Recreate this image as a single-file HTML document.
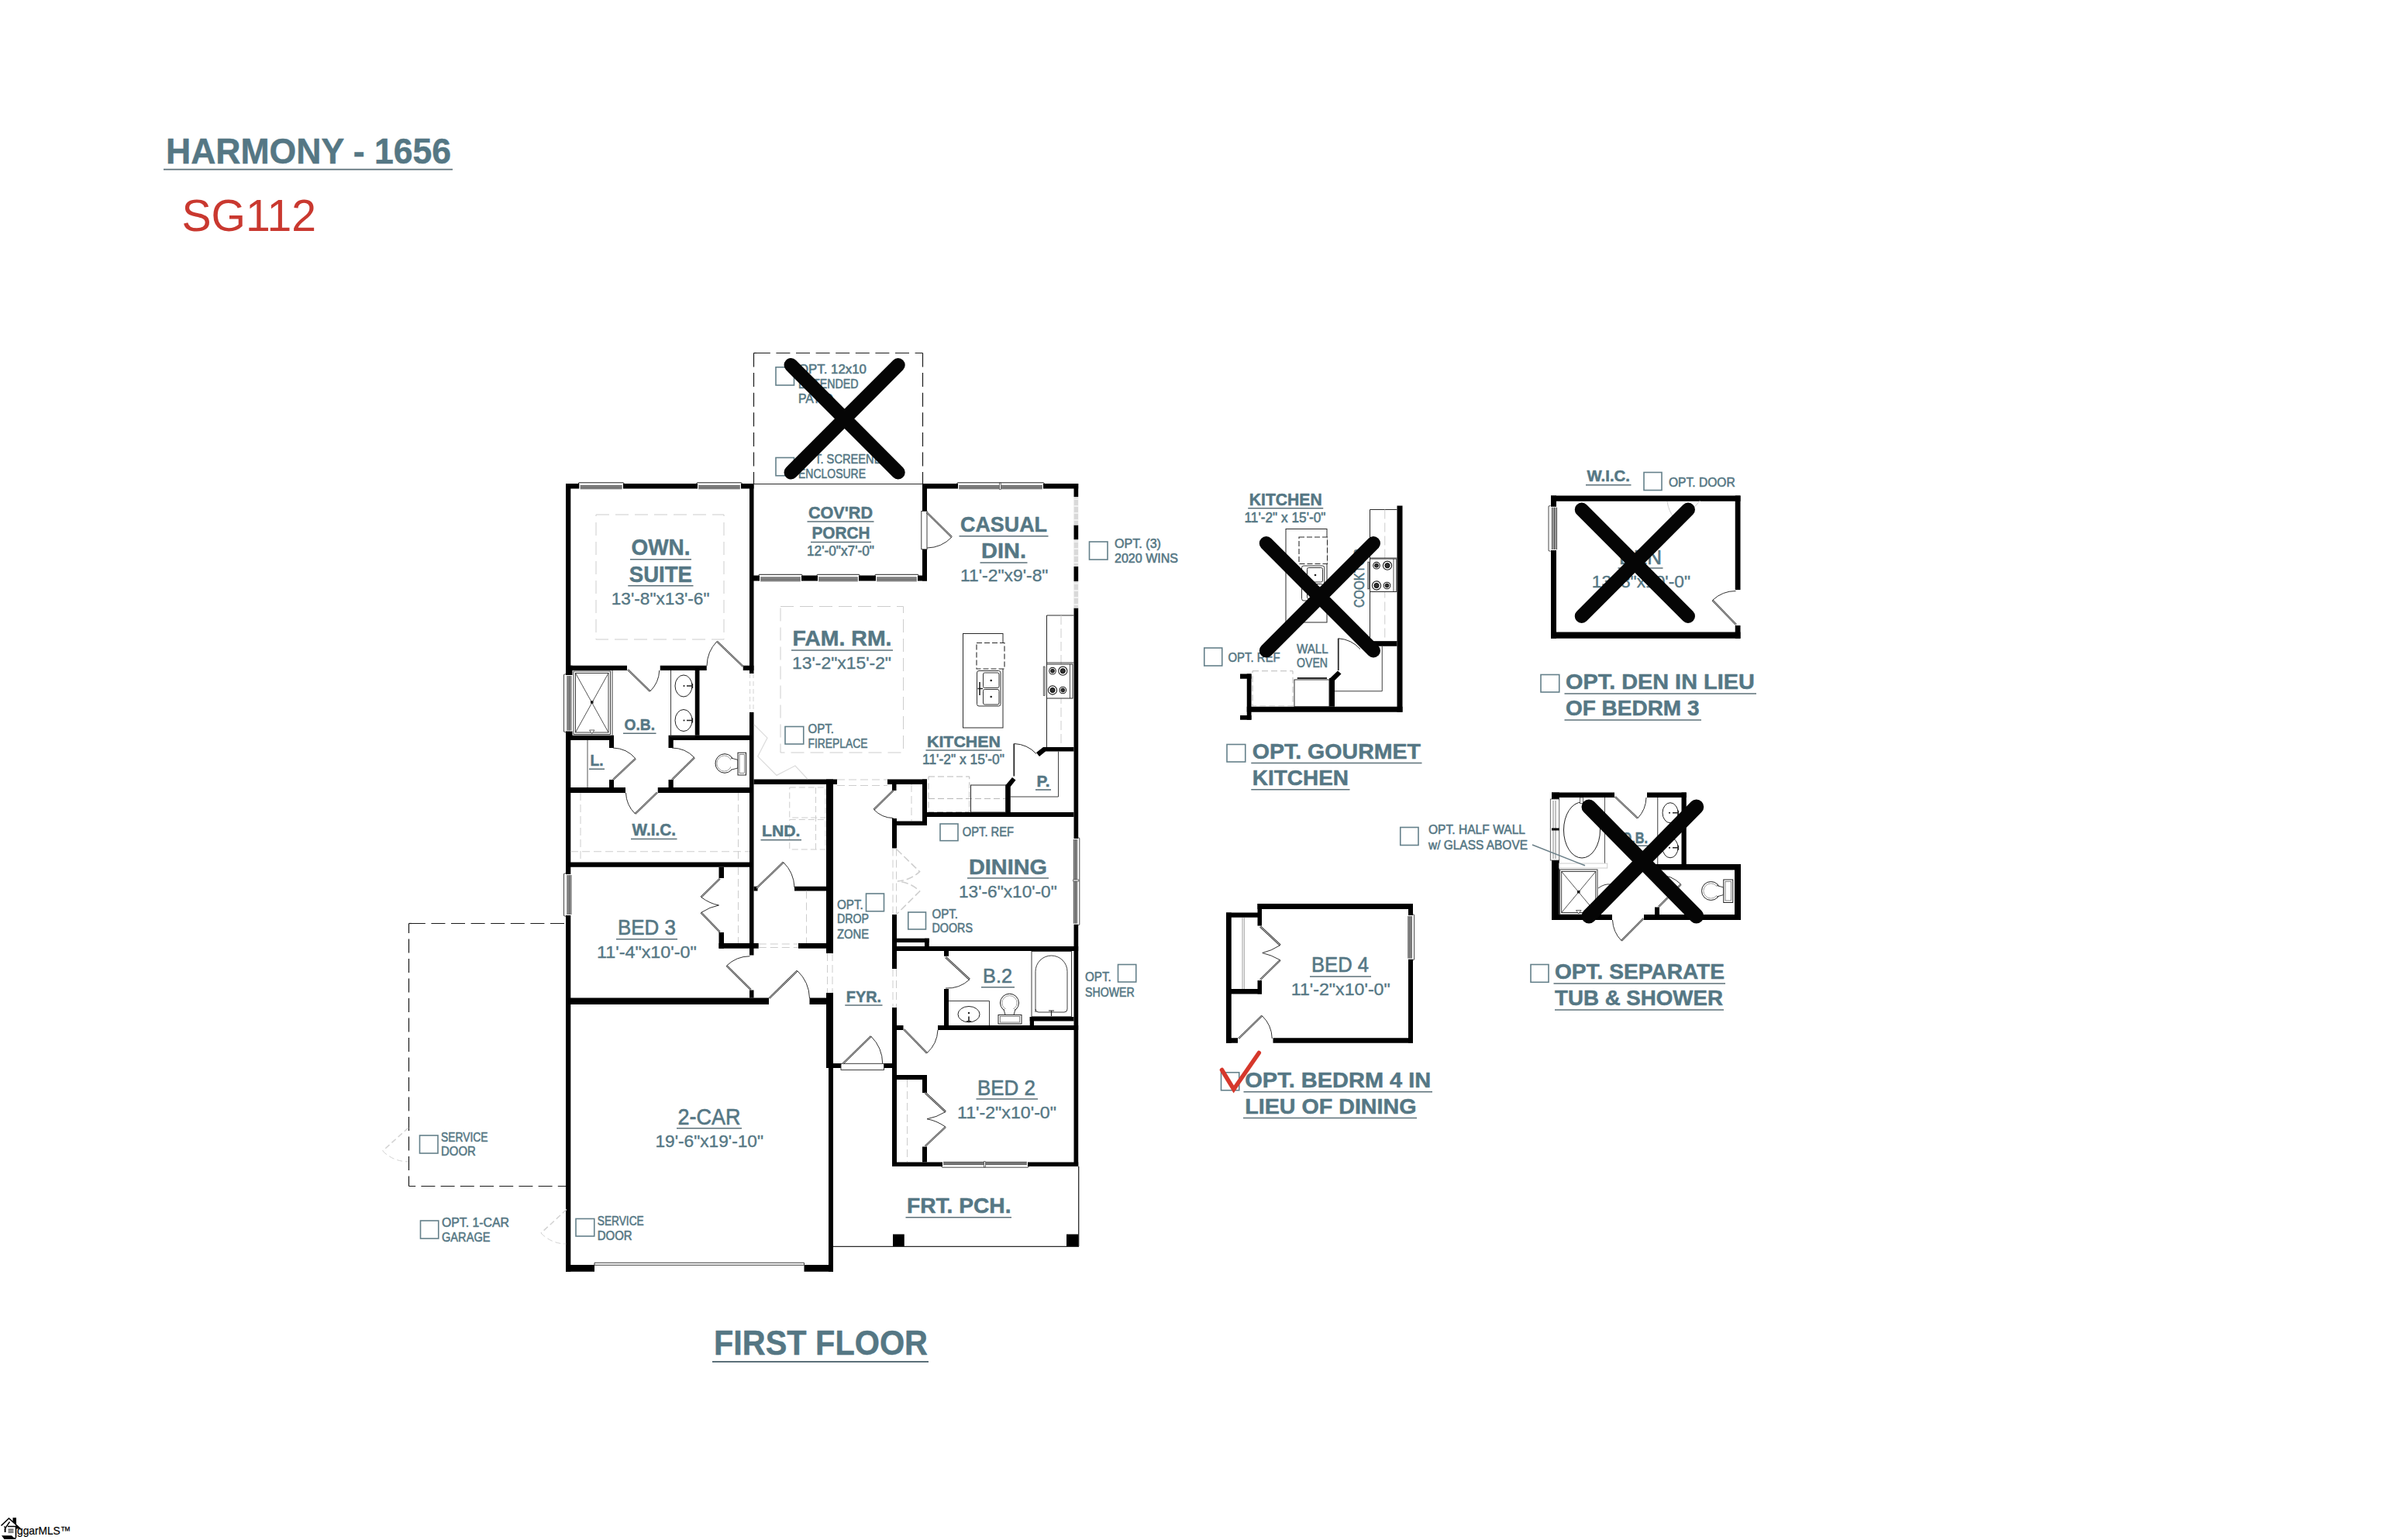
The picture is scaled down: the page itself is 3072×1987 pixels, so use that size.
<!DOCTYPE html>
<html><head><meta charset="utf-8"><title>Harmony 1656 - First Floor</title>
<style>html,body{margin:0;padding:0;background:#fff}svg{display:block;transform:translateZ(0)}text{font-family:"Liberation Sans",sans-serif}</style>
</head><body>
<svg width="3072" height="1987" viewBox="0 0 3072 1987">
<rect width="3072" height="1987" fill="#fff"/>
<rect x="730.00" y="624.00" width="6.30" height="1016.75" fill="#000" />
<rect x="730.00" y="624.00" width="17.50" height="6.50" fill="#000" />
<rect x="803.80" y="624.00" width="96.20" height="6.50" fill="#000" />
<rect x="956.00" y="624.00" width="16.50" height="6.50" fill="#000" />
<rect x="1190.00" y="624.00" width="46.00" height="6.50" fill="#000" />
<rect x="1346.00" y="624.00" width="45.20" height="6.50" fill="#000" />
<rect x="967.00" y="624.00" width="5.50" height="245.00" fill="#000" />
<rect x="967.00" y="919.00" width="5.50" height="313.50" fill="#000" />
<rect x="1190.00" y="624.00" width="6.00" height="36.00" fill="#000" />
<rect x="1190.00" y="708.75" width="6.00" height="40.75" fill="#000" />
<rect x="972.00" y="742.50" width="8.00" height="7.00" fill="#000" />
<rect x="1034.00" y="742.50" width="21.00" height="7.00" fill="#000" />
<rect x="1108.00" y="742.50" width="22.00" height="7.00" fill="#000" />
<rect x="1184.00" y="742.50" width="12.00" height="7.00" fill="#000" />
<rect x="1385.50" y="624.00" width="5.70" height="17.00" fill="#000" />
<rect x="1385.50" y="677.50" width="5.70" height="18.50" fill="#000" />
<rect x="1385.50" y="731.00" width="5.70" height="19.00" fill="#000" />
<rect x="1385.50" y="784.50" width="5.70" height="297.50" fill="#000" />
<rect x="1385.50" y="1192.50" width="5.70" height="312.50" fill="#000" />
<rect x="730.00" y="858.75" width="79.00" height="6.25" fill="#000" />
<rect x="851.75" y="858.75" width="60.00" height="6.25" fill="#000" />
<rect x="958.75" y="858.75" width="13.75" height="6.25" fill="#000" />
<rect x="730.00" y="858.75" width="8.50" height="12.25" fill="#000" />
<rect x="730.00" y="943.50" width="8.50" height="11.50" fill="#000" />
<rect x="896.75" y="865.00" width="5.75" height="83.75" fill="#000" />
<rect x="730.00" y="948.75" width="62.00" height="6.25" fill="#000" />
<rect x="862.50" y="948.75" width="104.50" height="6.25" fill="#000" />
<rect x="786.00" y="955.00" width="6.00" height="10.00" fill="#000" />
<rect x="862.50" y="955.00" width="6.25" height="10.00" fill="#000" />
<rect x="786.00" y="1006.00" width="6.00" height="10.00" fill="#000" />
<rect x="862.50" y="1006.00" width="6.25" height="10.00" fill="#000" />
<rect x="730.00" y="1016.00" width="77.00" height="7.00" fill="#000" />
<rect x="848.75" y="1016.00" width="118.25" height="7.00" fill="#000" />
<rect x="730.00" y="1112.50" width="237.00" height="6.25" fill="#000" />
<rect x="927.50" y="1118.75" width="6.50" height="14.25" fill="#000" />
<rect x="927.50" y="1203.00" width="6.50" height="20.75" fill="#000" />
<rect x="927.50" y="1217.00" width="51.25" height="6.75" fill="#000" />
<rect x="967.00" y="1277.50" width="5.50" height="10.00" fill="#000" />
<rect x="730.00" y="1287.50" width="262.00" height="8.50" fill="#000" />
<rect x="1044.50" y="1287.50" width="30.50" height="8.50" fill="#000" />
<rect x="972.50" y="1005.50" width="107.50" height="6.50" fill="#000" />
<rect x="1145.00" y="1005.50" width="51.00" height="6.50" fill="#000" />
<rect x="1066.00" y="1005.50" width="9.00" height="224.50" fill="#000" />
<rect x="972.50" y="1143.75" width="5.00" height="5.75" fill="#000" />
<rect x="1025.00" y="1143.75" width="41.00" height="5.75" fill="#000" />
<rect x="1030.00" y="1217.00" width="36.00" height="6.75" fill="#000" />
<rect x="1066.00" y="1281.00" width="9.00" height="97.00" fill="#000" />
<rect x="1069.00" y="1378.00" width="6.00" height="262.75" fill="#000" />
<rect x="730.00" y="1632.00" width="37.00" height="8.75" fill="#000" />
<rect x="1037.50" y="1632.00" width="37.50" height="8.75" fill="#000" />
<rect x="1190.00" y="1005.50" width="6.00" height="59.50" fill="#000" />
<rect x="1151.00" y="1059.50" width="45.00" height="5.50" fill="#000" />
<rect x="1151.00" y="1012.00" width="5.50" height="8.00" fill="#000" />
<rect x="1151.00" y="1056.00" width="6.00" height="38.50" fill="#000" />
<rect x="1151.00" y="1180.00" width="6.00" height="70.00" fill="#000" />
<rect x="1151.00" y="1300.00" width="6.00" height="205.00" fill="#000" />
<rect x="1196.00" y="1048.00" width="189.50" height="6.00" fill="#000" />
<rect x="1297.50" y="1012.50" width="6.25" height="35.50" fill="#000" />
<rect x="1346.00" y="964.00" width="39.50" height="5.50" fill="#000" />
<rect x="1151.00" y="1221.00" width="240.20" height="6.00" fill="#000" />
<rect x="1157.00" y="1210.75" width="41.75" height="5.25" fill="#000" />
<rect x="1193.00" y="1210.75" width="5.75" height="10.25" fill="#000" />
<rect x="1218.00" y="1227.00" width="6.00" height="6.75" fill="#000" />
<rect x="1218.00" y="1276.00" width="6.00" height="47.00" fill="#000" />
<rect x="1157.00" y="1323.00" width="8.50" height="6.00" fill="#000" />
<rect x="1210.00" y="1323.00" width="181.20" height="6.00" fill="#000" />
<rect x="1328.75" y="1312.00" width="56.75" height="5.50" fill="#000" />
<rect x="1328.75" y="1312.00" width="5.25" height="11.00" fill="#000" />
<rect x="1075.00" y="1372.00" width="11.00" height="6.00" fill="#000" />
<rect x="1140.00" y="1372.00" width="11.00" height="6.00" fill="#000" />
<rect x="1157.00" y="1387.00" width="39.00" height="6.00" fill="#000" />
<rect x="1190.00" y="1393.00" width="6.00" height="17.00" fill="#000" />
<rect x="1190.00" y="1479.50" width="6.00" height="20.00" fill="#000" />
<rect x="1151.00" y="1499.50" width="65.00" height="5.50" fill="#000" />
<rect x="1326.00" y="1499.50" width="65.20" height="5.50" fill="#000" />
<rect x="1152.00" y="1592.50" width="14.75" height="16.00" fill="#000" />
<rect x="1376.00" y="1592.50" width="16.00" height="16.00" fill="#000" />
<path d="M1346 964L1337 971L1341 976L1349 969.5Z" stroke="none" stroke-width="1" fill="#000" />
<path d="M1297.5 1013L1306 1003L1310.5 1006.5L1303.75 1015Z" stroke="none" stroke-width="1" fill="#000" />
<rect x="1385.50" y="641.00" width="5.70" height="36.50" fill="#d9d9d9" />
<line x1="1385.50" y1="644.00" x2="1391.20" y2="644.00" stroke="#fff" stroke-width="1.2" />
<line x1="1385.50" y1="653.00" x2="1391.20" y2="653.00" stroke="#fff" stroke-width="1.2" />
<line x1="1385.50" y1="662.00" x2="1391.20" y2="662.00" stroke="#fff" stroke-width="1.2" />
<line x1="1385.50" y1="671.00" x2="1391.20" y2="671.00" stroke="#fff" stroke-width="1.2" />
<rect x="1385.50" y="696.00" width="5.70" height="35.00" fill="#d9d9d9" />
<line x1="1385.50" y1="699.00" x2="1391.20" y2="699.00" stroke="#fff" stroke-width="1.2" />
<line x1="1385.50" y1="708.00" x2="1391.20" y2="708.00" stroke="#fff" stroke-width="1.2" />
<line x1="1385.50" y1="717.00" x2="1391.20" y2="717.00" stroke="#fff" stroke-width="1.2" />
<line x1="1385.50" y1="726.00" x2="1391.20" y2="726.00" stroke="#fff" stroke-width="1.2" />
<rect x="1385.50" y="750.00" width="5.70" height="34.50" fill="#d9d9d9" />
<line x1="1385.50" y1="753.00" x2="1391.20" y2="753.00" stroke="#fff" stroke-width="1.2" />
<line x1="1385.50" y1="762.00" x2="1391.20" y2="762.00" stroke="#fff" stroke-width="1.2" />
<line x1="1385.50" y1="771.00" x2="1391.20" y2="771.00" stroke="#fff" stroke-width="1.2" />
<line x1="1385.50" y1="780.00" x2="1391.20" y2="780.00" stroke="#fff" stroke-width="1.2" />
<path d="M967.6 869V919M972 869V919" stroke="#d4d4d4" stroke-width="1" fill="none" stroke-dasharray="6 4"/>
<rect x="747.50" y="623.40" width="56.30" height="7.70" fill="#fff" />
<path d="M746.20 624.00L746.90 622.80H804.40L805.10 624.00" stroke="#222" stroke-width="1" fill="none" />
<rect x="748.70" y="626.40" width="53.90" height="4.30" fill="#9a9a9a" />
<line x1="748.70" y1="626.40" x2="802.60" y2="626.40" stroke="#4a4a4a" stroke-width="0.9" />
<line x1="748.70" y1="628.55" x2="802.60" y2="628.55" stroke="#4a4a4a" stroke-width="0.9" />
<line x1="748.70" y1="630.70" x2="802.60" y2="630.70" stroke="#4a4a4a" stroke-width="0.9" />
<rect x="900.00" y="623.40" width="56.00" height="7.70" fill="#fff" />
<path d="M898.70 624.00L899.40 622.80H956.60L957.30 624.00" stroke="#222" stroke-width="1" fill="none" />
<rect x="901.20" y="626.40" width="53.60" height="4.30" fill="#9a9a9a" />
<line x1="901.20" y1="626.40" x2="954.80" y2="626.40" stroke="#4a4a4a" stroke-width="0.9" />
<line x1="901.20" y1="628.55" x2="954.80" y2="628.55" stroke="#4a4a4a" stroke-width="0.9" />
<line x1="901.20" y1="630.70" x2="954.80" y2="630.70" stroke="#4a4a4a" stroke-width="0.9" />
<rect x="1236.00" y="623.40" width="110.00" height="7.70" fill="#fff" />
<path d="M1234.70 624.00L1235.40 622.80H1346.60L1347.30 624.00" stroke="#222" stroke-width="1" fill="none" />
<rect x="1237.20" y="626.40" width="107.60" height="4.30" fill="#9a9a9a" />
<line x1="1237.20" y1="626.40" x2="1344.80" y2="626.40" stroke="#4a4a4a" stroke-width="0.9" />
<line x1="1237.20" y1="628.55" x2="1344.80" y2="628.55" stroke="#4a4a4a" stroke-width="0.9" />
<line x1="1237.20" y1="630.70" x2="1344.80" y2="630.70" stroke="#4a4a4a" stroke-width="0.9" />
<rect x="1289.50" y="623.20" width="2.00" height="8.10" fill="#fff" stroke="#444" stroke-width="0.7" />
<rect x="980.00" y="741.90" width="54.00" height="8.20" fill="#fff" />
<path d="M978.70 742.50L979.40 741.30H1034.60L1035.30 742.50" stroke="#222" stroke-width="1" fill="none" />
<rect x="981.20" y="744.90" width="51.60" height="4.80" fill="#9a9a9a" />
<line x1="981.20" y1="744.90" x2="1032.80" y2="744.90" stroke="#4a4a4a" stroke-width="0.9" />
<line x1="981.20" y1="747.30" x2="1032.80" y2="747.30" stroke="#4a4a4a" stroke-width="0.9" />
<line x1="981.20" y1="749.70" x2="1032.80" y2="749.70" stroke="#4a4a4a" stroke-width="0.9" />
<rect x="1055.00" y="741.90" width="53.00" height="8.20" fill="#fff" />
<path d="M1053.70 742.50L1054.40 741.30H1108.60L1109.30 742.50" stroke="#222" stroke-width="1" fill="none" />
<rect x="1056.20" y="744.90" width="50.60" height="4.80" fill="#9a9a9a" />
<line x1="1056.20" y1="744.90" x2="1106.80" y2="744.90" stroke="#4a4a4a" stroke-width="0.9" />
<line x1="1056.20" y1="747.30" x2="1106.80" y2="747.30" stroke="#4a4a4a" stroke-width="0.9" />
<line x1="1056.20" y1="749.70" x2="1106.80" y2="749.70" stroke="#4a4a4a" stroke-width="0.9" />
<rect x="1130.00" y="741.90" width="54.00" height="8.20" fill="#fff" />
<path d="M1128.70 742.50L1129.40 741.30H1184.60L1185.30 742.50" stroke="#222" stroke-width="1" fill="none" />
<rect x="1131.20" y="744.90" width="51.60" height="4.80" fill="#9a9a9a" />
<line x1="1131.20" y1="744.90" x2="1182.80" y2="744.90" stroke="#4a4a4a" stroke-width="0.9" />
<line x1="1131.20" y1="747.30" x2="1182.80" y2="747.30" stroke="#4a4a4a" stroke-width="0.9" />
<line x1="1131.20" y1="749.70" x2="1182.80" y2="749.70" stroke="#4a4a4a" stroke-width="0.9" />
<rect x="1216.00" y="1498.90" width="110.00" height="6.70" fill="#fff" />
<path d="M1214.70 1505.00L1215.40 1506.20H1326.60L1327.30 1505.00" stroke="#333" stroke-width="0.9" fill="none" />
<rect x="1217.20" y="1499.30" width="107.60" height="3.30" fill="#9a9a9a" />
<line x1="1217.20" y1="1499.30" x2="1324.80" y2="1499.30" stroke="#4a4a4a" stroke-width="0.9" />
<line x1="1217.20" y1="1500.95" x2="1324.80" y2="1500.95" stroke="#4a4a4a" stroke-width="0.9" />
<line x1="1217.20" y1="1502.60" x2="1324.80" y2="1502.60" stroke="#4a4a4a" stroke-width="0.9" />
<rect x="1269.50" y="1498.70" width="2.00" height="7.10" fill="#fff" stroke="#444" stroke-width="0.7" />
<rect x="729.40" y="871.00" width="7.50" height="72.50" fill="#fff" />
<path d="M730.00 869.70L727.50 870.40V944.10L730.00 944.80" stroke="#333" stroke-width="0.9" fill="none" />
<rect x="731.90" y="872.00" width="5.00" height="70.50" fill="#9a9a9a" />
<line x1="731.90" y1="872.00" x2="731.90" y2="942.50" stroke="#4a4a4a" stroke-width="0.9" />
<line x1="734.40" y1="872.00" x2="734.40" y2="942.50" stroke="#4a4a4a" stroke-width="0.9" />
<line x1="736.90" y1="872.00" x2="736.90" y2="942.50" stroke="#4a4a4a" stroke-width="0.9" />
<rect x="729.40" y="1128.00" width="7.50" height="53.00" fill="#fff" />
<path d="M730.00 1126.70L727.50 1127.40V1181.60L730.00 1182.30" stroke="#333" stroke-width="0.9" fill="none" />
<rect x="731.90" y="1129.00" width="5.00" height="51.00" fill="#9a9a9a" />
<line x1="731.90" y1="1129.00" x2="731.90" y2="1180.00" stroke="#4a4a4a" stroke-width="0.9" />
<line x1="734.40" y1="1129.00" x2="734.40" y2="1180.00" stroke="#4a4a4a" stroke-width="0.9" />
<line x1="736.90" y1="1129.00" x2="736.90" y2="1180.00" stroke="#4a4a4a" stroke-width="0.9" />
<rect x="1384.90" y="1082.00" width="6.90" height="110.50" fill="#fff" />
<path d="M1391.20 1080.70L1392.80 1081.40V1193.10L1391.20 1193.80" stroke="#333" stroke-width="0.9" fill="none" />
<rect x="1385.30" y="1083.00" width="4.30" height="108.50" fill="#9a9a9a" />
<line x1="1385.30" y1="1083.00" x2="1385.30" y2="1191.50" stroke="#4a4a4a" stroke-width="0.9" />
<line x1="1387.45" y1="1083.00" x2="1387.45" y2="1191.50" stroke="#4a4a4a" stroke-width="0.9" />
<line x1="1389.60" y1="1083.00" x2="1389.60" y2="1191.50" stroke="#4a4a4a" stroke-width="0.9" />
<rect x="1384.70" y="1135.00" width="7.30" height="2.00" fill="#fff" stroke="#444" stroke-width="0.7" />
<path d="M972.5 455.5H976" stroke="#1a1a1a" stroke-width="1.2" fill="none" />
<path d="M975.8 455.5H1190.5" stroke="#1a1a1a" stroke-width="1.2" fill="none" stroke-dasharray="18 7.6"/>
<path d="M972.5 455.5V624.5M1190.5 455.5V624.5" stroke="#1a1a1a" stroke-width="1.2" fill="none" stroke-dasharray="18 7.6"/>
<line x1="972.50" y1="624.50" x2="1190.50" y2="624.50" stroke="#2a2a2a" stroke-width="1.2" />
<path d="M527.5 1191.5H531" stroke="#1a1a1a" stroke-width="1.2" fill="none" />
<path d="M530.8 1191.5H730" stroke="#1a1a1a" stroke-width="1.2" fill="none" stroke-dasharray="18 7.6"/>
<path d="M527.5 1191.5V1530.5" stroke="#1a1a1a" stroke-width="1.2" fill="none" stroke-dasharray="18 7.5" stroke-dashoffset="5.5"/>
<path d="M527.5 1530.5H730" stroke="#1a1a1a" stroke-width="1.2" fill="none" stroke-dasharray="18 7.2" stroke-dashoffset="9.3"/>
<rect x="769.00" y="664.00" width="165.00" height="161.00" fill="none" stroke="#cdcdcd" stroke-width="1" stroke-dasharray="17 8"/>
<rect x="1007.00" y="782.50" width="158.50" height="188.50" fill="none" stroke="#cdcdcd" stroke-width="1" stroke-dasharray="17 8"/>
<path d="M749 1023V1112M952.5 1023V1112M952.5 1119V1217M736 1098.75H967" stroke="#cdcdcd" stroke-width="1" fill="none" stroke-dasharray="10 5"/>
<path d="M1018.75 1016H1065V1055H1018.75ZM1018.75 1057.5H1065V1096H1018.75ZM1052.5 1016V1096" stroke="#cdcdcd" stroke-width="1" fill="none" stroke-dasharray="8 4"/>
<path d="M1040.5 1149.5V1217M978.75 1218H1030M978.75 1222.5H1030" stroke="#cdcdcd" stroke-width="1" fill="none" stroke-dasharray="10 5"/>
<path d="M1080 1006H1145M1080 1013.5H1145" stroke="#cdcdcd" stroke-width="1" fill="none" stroke-dasharray="10 5"/>
<path d="M1176 1012V1059" stroke="#cdcdcd" stroke-width="1" fill="none" stroke-dasharray="10 5"/>
<path d="M1067.5 1230V1281M1074 1230V1281" stroke="#cdcdcd" stroke-width="1" fill="none" stroke-dasharray="10 5"/>
<path d="M1152 1094.5V1180M1156.5 1094.5V1180M1152 1250V1300M1156.5 1250V1300" stroke="#cdcdcd" stroke-width="1" fill="none" stroke-dasharray="10 5"/>
<path d="M1157 1096L1186.6 1124.7Q1175 1135.5 1158 1137Q1175 1138.5 1186.6 1150L1157.4 1179" stroke="#cfcfcf" stroke-width="1.6" fill="none" stroke-dasharray="9 4"/>
<path d="M1198 1002H1250.75V1047.5H1198ZM1198 1030.5H1297.5" stroke="#b8b8b8" stroke-width="1" fill="none" stroke-dasharray="8 4"/>
<rect x="1252.50" y="1013.00" width="45.00" height="35.00" fill="none" stroke="#2a2a2a" stroke-width="1" />
<path d="M1170.5 1393V1499" stroke="#cdcdcd" stroke-width="1" fill="none" stroke-dasharray="10 5"/>
<path d="M973 935L990 952L977.7 976L1002 1000.4L1026 988L1041.7 1005" stroke="#dcdcdc" stroke-width="1.2" fill="none" />
<path d="M1075 1608.3H1392M1391.7 1505V1608" stroke="#2a2a2a" stroke-width="1.3" fill="none" />
<path d="M767 1629.3H1037.5M767 1632.3H1037.5M767 1629.3V1632M1037.5 1629.3V1632" stroke="#2a2a2a" stroke-width="0.9" fill="none" />
<rect x="1085.00" y="1372.30" width="55.50" height="8.20" fill="#fff" stroke="#2a2a2a" stroke-width="0.9" />
<rect x="1242.50" y="817.50" width="51.50" height="121.50" fill="none" stroke="#2a2a2a" stroke-width="1" />
<rect x="1260.00" y="829.50" width="36.00" height="33.50" fill="#fff" stroke="#2a2a2a" stroke-width="1.1" stroke-dasharray="7 3"/>
<rect x="1260.50" y="865.50" width="30.50" height="45.50" fill="none" stroke="#333" stroke-width="1" rx="2.5"/>
<rect x="1268.50" y="868.00" width="20.50" height="19.50" fill="none" stroke="#333" stroke-width="1" rx="2"/>
<rect x="1268.50" y="889.50" width="20.50" height="19.50" fill="none" stroke="#333" stroke-width="1" rx="2"/>
<circle cx="1278.7" cy="878" r="1.3" fill="#222"/><circle cx="1278.7" cy="899" r="1.3" fill="#222"/>
<path d="M1264 880V897M1261.5 888.5H1268" stroke="#222" stroke-width="1.6" fill="none" />
<path d="M1385.5 794H1350.5V964" stroke="#2a2a2a" stroke-width="1" fill="none" />
<path d="M1369 794V964" stroke="#cdcdcd" stroke-width="1" fill="none" stroke-dasharray="12 5"/>
<line x1="1350.50" y1="855.00" x2="1385.50" y2="855.00" stroke="#2a2a2a" stroke-width="0.9" />
<rect x="1350.50" y="857.00" width="33.50" height="44.00" fill="#fff" stroke="#2a2a2a" stroke-width="1" />
<line x1="1380.50" y1="857.00" x2="1380.50" y2="901.00" stroke="#2a2a2a" stroke-width="0.8" />
<rect x="1346.20" y="860.00" width="2.00" height="37.50" fill="#bbb" stroke="#444" stroke-width="0.7" />
<circle cx="1358" cy="865.7" r="4.3" fill="#fff" stroke="#222" stroke-width="1.1"/><circle cx="1358" cy="865.7" r="2.4" fill="#333" stroke="#000" stroke-width="0.9"/>
<circle cx="1371.3" cy="865.7" r="5.6" fill="#fff" stroke="#222" stroke-width="1.1"/><circle cx="1371.3" cy="865.7" r="3.1" fill="#333" stroke="#000" stroke-width="0.9"/>
<circle cx="1358" cy="890.5" r="5.6" fill="#fff" stroke="#222" stroke-width="1.1"/><circle cx="1358" cy="890.5" r="3.1" fill="#333" stroke="#000" stroke-width="0.9"/>
<circle cx="1371.3" cy="890.5" r="4.3" fill="#fff" stroke="#222" stroke-width="1.1"/><circle cx="1371.3" cy="890.5" r="2.4" fill="#333" stroke="#000" stroke-width="0.9"/>
<path d="M1365.5 969.5V1028H1303.75" stroke="#2a2a2a" stroke-width="0.9" fill="none" />
<path d="M865.5 865V950.5H896.75" stroke="#2a2a2a" stroke-width="0.9" fill="none" />
<ellipse cx="882" cy="885" rx="11" ry="14" fill="#fff" stroke="#222" stroke-width="1"/>
<circle cx="882.5" cy="885" r="1.1" fill="#222"/>
<path d="M886 885H894M893.5 882V888" stroke="#222" stroke-width="1.3" fill="none" />
<ellipse cx="882" cy="929.5" rx="11" ry="14" fill="#fff" stroke="#222" stroke-width="1"/>
<circle cx="882.5" cy="929.5" r="1.1" fill="#222"/>
<path d="M886 929.5H894M893.5 926.5V932.5" stroke="#222" stroke-width="1.3" fill="none" />
<rect x="740.00" y="866.00" width="47.50" height="81.50" fill="none" stroke="#2a2a2a" stroke-width="0.9" />
<line x1="790.00" y1="865.00" x2="790.00" y2="948.75" stroke="#2a2a2a" stroke-width="0.9" />
<rect x="742.50" y="868.50" width="42.50" height="76.50" fill="none" stroke="#2a2a2a" stroke-width="0.9" />
<path d="M742.5 868.5L785 945M785 868.5L742.5 945" stroke="#2a2a2a" stroke-width="0.8" fill="none" />
<rect x="762.00" y="904.30" width="3.50" height="3.40" fill="#111" />
<path d="M760.5 942L767 942L763.7 946.5Z" stroke="#2a2a2a" stroke-width="0.7" fill="#fff" />
<line x1="758.00" y1="955.00" x2="758.00" y2="1016.00" stroke="#444" stroke-width="0.9" />
<ellipse cx="935" cy="985" rx="12" ry="12.3" fill="#fff" stroke="#222" stroke-width="1"/><ellipse cx="934.5" cy="985" rx="9.6" ry="10" fill="none" stroke="#888" stroke-width="0.8"/>
<path d="M943 978L952 980.4V991L943 993.3" stroke="#222" stroke-width="0.9" fill="#fff" />
<rect x="952.00" y="971.20" width="10.50" height="28.80" fill="#fff" stroke="#222" stroke-width="1" />
<rect x="954.00" y="973.50" width="6.50" height="24.00" fill="none" stroke="#555" stroke-width="0.7" />
<rect x="1331.00" y="1227.50" width="51.50" height="84.25" fill="none" stroke="#2a2a2a" stroke-width="0.9" />
<path d="M1336 1306V1253.5A20.5 20.5 0 0 1 1377 1253.5V1302A4 4 0 0 1 1373 1306H1340A4 4 0 0 1 1336 1302" stroke="#2a2a2a" stroke-width="0.9" fill="none" />
<path d="M1353 1304H1360M1356.5 1304V1311" stroke="#2a2a2a" stroke-width="1.2" fill="none" />
<path d="M1224 1291.5H1276.5V1323" stroke="#2a2a2a" stroke-width="0.9" fill="none" />
<ellipse cx="1250" cy="1308.7" rx="14" ry="10.2" fill="#fff" stroke="#222" stroke-width="1"/><circle cx="1250" cy="1307" r="1.2" fill="#222"/>
<path d="M1250 1311.5V1317.5M1247.3 1317.8H1252.7" stroke="#222" stroke-width="1.6" fill="none" />
<ellipse cx="1302.5" cy="1294" rx="12" ry="11.8" fill="#fff" stroke="#222" stroke-width="1"/><ellipse cx="1302.5" cy="1294" rx="9.6" ry="9.4" fill="none" stroke="#888" stroke-width="0.8"/>
<path d="M1295 1302L1297 1309.5H1308L1310 1302" stroke="#222" stroke-width="0.9" fill="#fff" />
<rect x="1288.00" y="1309.50" width="30.00" height="11.50" fill="#fff" stroke="#222" stroke-width="1" />
<rect x="1290.30" y="1311.60" width="25.40" height="7.40" fill="none" stroke="#555" stroke-width="0.7" />
<path d="M958.75 860.00L925.00 827.50" stroke="#333" stroke-width="2.4" fill="none" />
<path d="M958.75 860.00L925.00 827.50" stroke="#fff" stroke-width="0.8" fill="none" />
<path d="M925.00 827.50A46.85 46.85 0 0 0 912.00 859.00" stroke="#333" stroke-width="1.0" fill="none" />
<path d="M810.00 864.00L838.75 892.00" stroke="#333" stroke-width="2.4" fill="none" />
<path d="M810.00 864.00L838.75 892.00" stroke="#fff" stroke-width="0.8" fill="none" />
<path d="M838.75 892.00A40.13 40.13 0 0 0 850.75 865.00" stroke="#333" stroke-width="1.0" fill="none" />
<path d="M791.00 1006.00L820.00 978.75" stroke="#333" stroke-width="2.4" fill="none" />
<path d="M791.00 1006.00L820.00 978.75" stroke="#fff" stroke-width="0.8" fill="none" />
<path d="M820.00 978.75A39.79 39.79 0 0 0 791.00 965.00" stroke="#333" stroke-width="1.0" fill="none" />
<path d="M867.00 1006.00L896.00 977.50" stroke="#333" stroke-width="2.4" fill="none" />
<path d="M867.00 1006.00L896.00 977.50" stroke="#fff" stroke-width="0.8" fill="none" />
<path d="M896.00 977.50A40.66 40.66 0 0 0 867.00 965.00" stroke="#333" stroke-width="1.0" fill="none" />
<path d="M848.00 1022.50L819.50 1050.00" stroke="#333" stroke-width="2.4" fill="none" />
<path d="M848.00 1022.50L819.50 1050.00" stroke="#fff" stroke-width="0.8" fill="none" />
<path d="M819.50 1050.00A39.60 39.60 0 0 1 807.50 1023.00" stroke="#333" stroke-width="1.0" fill="none" />
<path d="M968.75 1277.00L937.50 1246.00" stroke="#333" stroke-width="2.4" fill="none" />
<path d="M968.75 1277.00L937.50 1246.00" stroke="#fff" stroke-width="0.8" fill="none" />
<path d="M937.50 1246.00A44.02 44.02 0 0 1 967.50 1233.75" stroke="#333" stroke-width="1.0" fill="none" />
<path d="M992.50 1288.00L1028.75 1252.50" stroke="#333" stroke-width="2.4" fill="none" />
<path d="M992.50 1288.00L1028.75 1252.50" stroke="#fff" stroke-width="0.8" fill="none" />
<path d="M1028.75 1252.50A50.74 50.74 0 0 1 1044.50 1288.00" stroke="#333" stroke-width="1.0" fill="none" />
<path d="M976.00 1146.00L1010.75 1112.50" stroke="#333" stroke-width="2.4" fill="none" />
<path d="M976.00 1146.00L1010.75 1112.50" stroke="#fff" stroke-width="0.8" fill="none" />
<path d="M1010.75 1112.50A48.27 48.27 0 0 1 1025.00 1145.00" stroke="#333" stroke-width="1.0" fill="none" />
<path d="M1152.50 1020.00L1127.50 1044.50" stroke="#333" stroke-width="2.4" fill="none" />
<path d="M1152.50 1020.00L1127.50 1044.50" stroke="#fff" stroke-width="0.8" fill="none" />
<path d="M1127.50 1044.50A35.00 35.00 0 0 0 1152.50 1055.50" stroke="#333" stroke-width="1.0" fill="none" />
<path d="M1220.00 1235.00L1251.00 1263.75" stroke="#333" stroke-width="2.4" fill="none" />
<path d="M1220.00 1235.00L1251.00 1263.75" stroke="#fff" stroke-width="0.8" fill="none" />
<path d="M1251.00 1263.75A42.28 42.28 0 0 1 1220.00 1275.00" stroke="#333" stroke-width="1.0" fill="none" />
<path d="M1166.00 1328.00L1196.00 1358.75" stroke="#333" stroke-width="2.4" fill="none" />
<path d="M1166.00 1328.00L1196.00 1358.75" stroke="#fff" stroke-width="0.8" fill="none" />
<path d="M1196.00 1358.75A42.96 42.96 0 0 0 1210.00 1329.00" stroke="#333" stroke-width="1.0" fill="none" />
<path d="M1087.50 1372.50L1123.75 1337.00" stroke="#333" stroke-width="2.4" fill="none" />
<path d="M1087.50 1372.50L1123.75 1337.00" stroke="#fff" stroke-width="0.8" fill="none" />
<path d="M1123.75 1337.00A50.74 50.74 0 0 1 1138.75 1372.50" stroke="#333" stroke-width="1.0" fill="none" />
<rect x="1188.80" y="659.50" width="7.20" height="49.25" fill="#fff" stroke="#2a2a2a" stroke-width="0.9" />
<path d="M1195.50 661.00L1228.00 693.00" stroke="#333" stroke-width="2.4" fill="none" />
<path d="M1195.50 661.00L1228.00 693.00" stroke="#fff" stroke-width="0.8" fill="none" />
<path d="M1228.00 693.00A45.61 45.61 0 0 1 1196.00 707.00" stroke="#333" stroke-width="1.0" fill="none" />
<line x1="1308.30" y1="959.50" x2="1308.30" y2="1001.50" stroke="#2a2a2a" stroke-width="1.8" />
<path d="M1308.5 959.5A42 42 0 0 1 1337 972.5" stroke="#2a2a2a" stroke-width="1" fill="none" />
<path d="M928.75 1133.75L904.5 1157.5M904.5 1177.5L928.75 1202.5" stroke="#333" stroke-width="2.4" fill="none" />
<path d="M928.75 1133.75L904.5 1157.5M904.5 1177.5L928.75 1202.5" stroke="#fff" stroke-width="0.8" fill="none" />
<path d="M904.5 1157.5Q916.0 1166 927.5 1168Q916.0 1170 904.5 1177.5" stroke="#333" stroke-width="1" fill="none" />
<path d="M1193.75 1410L1220 1434.5M1220 1454L1193.75 1478.75" stroke="#333" stroke-width="2.4" fill="none" />
<path d="M1193.75 1410L1220 1434.5M1220 1454L1193.75 1478.75" stroke="#fff" stroke-width="0.8" fill="none" />
<path d="M1220 1434.5Q1208.0 1441.75 1196 1443.75Q1208.0 1445.75 1220 1454" stroke="#333" stroke-width="1" fill="none" />
<path d="M527.00 1455.00L493.75 1485.00" stroke="#d2d2d2" stroke-width="1.5" fill="none" stroke-dasharray="7 4"/>
<path d="M493.75 1485.00A44.78 44.78 0 0 0 527.00 1498.75" stroke="#d2d2d2" stroke-width="1.0" fill="none" stroke-dasharray="7 4"/>
<path d="M731.00 1560.50L698.00 1591.00" stroke="#d2d2d2" stroke-width="1.5" fill="none" stroke-dasharray="7 4"/>
<path d="M698.00 1591.00A44.94 44.94 0 0 0 730.50 1605.00" stroke="#d2d2d2" stroke-width="1.0" fill="none" stroke-dasharray="7 4"/>
<rect x="1802.50" y="652.50" width="7.00" height="266.25" fill="#000" />
<rect x="1608.75" y="911.75" width="200.75" height="7.00" fill="#000" />
<rect x="1608.75" y="869.50" width="5.75" height="59.25" fill="#000" />
<rect x="1600.00" y="869.50" width="14.50" height="6.25" fill="#000" />
<rect x="1600.00" y="923.00" width="14.50" height="5.75" fill="#000" />
<rect x="1773.75" y="827.00" width="28.75" height="6.75" fill="#000" />
<rect x="1715.00" y="875.00" width="7.00" height="36.75" fill="#000" />
<path d="M1773.75 827L1764 834L1768 839.5L1778 833.75Z" stroke="none" stroke-width="1" fill="#000" />
<path d="M1715 876L1726 865.5L1730.5 869.5L1722 878Z" stroke="none" stroke-width="1" fill="#000" />
<rect x="1659.00" y="682.50" width="53.00" height="120.50" fill="none" stroke="#2a2a2a" stroke-width="1" />
<rect x="1676.00" y="693.00" width="36.50" height="34.50" fill="#fff" stroke="#2a2a2a" stroke-width="1.1" stroke-dasharray="7 3"/>
<rect x="1679.50" y="730.00" width="29.25" height="45.00" fill="none" stroke="#333" stroke-width="1" rx="2.5"/>
<rect x="1686.50" y="732.50" width="20.00" height="18.50" fill="none" stroke="#333" stroke-width="1" rx="2"/>
<rect x="1686.50" y="753.50" width="20.00" height="19.00" fill="none" stroke="#333" stroke-width="1" rx="2"/>
<circle cx="1697" cy="742" r="1.3" fill="#222"/>
<path d="M1802.5 657.5H1767.5V827.5H1802.5" stroke="#2a2a2a" stroke-width="1" fill="none" />
<path d="M1786.75 657.5V827" stroke="#cdcdcd" stroke-width="1" fill="none" stroke-dasharray="12 5"/>
<line x1="1767.50" y1="720.00" x2="1802.50" y2="720.00" stroke="#2a2a2a" stroke-width="0.9" />
<rect x="1767.50" y="721.00" width="34.25" height="42.50" fill="#fff" stroke="#2a2a2a" stroke-width="1" />
<line x1="1798.00" y1="721.00" x2="1798.00" y2="763.50" stroke="#2a2a2a" stroke-width="0.8" />
<rect x="1764.80" y="725.00" width="1.80" height="35.00" fill="#bbb" stroke="#444" stroke-width="0.7" />
<circle cx="1776" cy="729.7" r="4.3" fill="#fff" stroke="#222" stroke-width="1.1"/><circle cx="1776" cy="729.7" r="2.4" fill="#333" stroke="#000" stroke-width="0.9"/>
<circle cx="1790" cy="729.7" r="5.6" fill="#fff" stroke="#222" stroke-width="1.1"/><circle cx="1790" cy="729.7" r="3.1" fill="#333" stroke="#000" stroke-width="0.9"/>
<circle cx="1776" cy="755.5" r="5.6" fill="#fff" stroke="#222" stroke-width="1.1"/><circle cx="1776" cy="755.5" r="3.1" fill="#333" stroke="#000" stroke-width="0.9"/>
<circle cx="1789.5" cy="755.5" r="4.3" fill="#fff" stroke="#222" stroke-width="1.1"/><circle cx="1789.5" cy="755.5" r="2.4" fill="#333" stroke="#000" stroke-width="0.9"/>
<line x1="1726.75" y1="823.75" x2="1726.75" y2="865.00" stroke="#2a2a2a" stroke-width="1.8" />
<path d="M1726.75 823.75A42 42 0 0 1 1755 837.5" stroke="#2a2a2a" stroke-width="1" fill="none" />
<path d="M1783.25 833.75V891.75H1722" stroke="#2a2a2a" stroke-width="0.9" fill="none" />
<rect x="1670.00" y="877.00" width="45.00" height="34.75" fill="none" stroke="#2a2a2a" stroke-width="1" />
<line x1="1673.75" y1="875.00" x2="1712.00" y2="875.00" stroke="#2a2a2a" stroke-width="2" />
<rect x="1616.00" y="865.75" width="52.00" height="45.25" fill="none" stroke="#b8b8b8" stroke-width="1" stroke-dasharray="8 4"/>
<text x="1611.75" y="651.75" font-size="21.44" font-weight="700" fill="#557784" textLength="94.00" lengthAdjust="spacingAndGlyphs"  stroke="#557784" stroke-width="0.5" stroke-linejoin="round">KITCHEN</text>
<line x1="1610.25" y1="655.70" x2="1707.25" y2="655.70" stroke="#5c7079" stroke-width="1.6" />
<text x="1605.50" y="673.50" font-size="18.17" font-weight="400" fill="#557784" textLength="105.00" lengthAdjust="spacingAndGlyphs"  stroke="#557784" stroke-width="0.55" stroke-linejoin="round">11'-2&quot; x 15'-0&quot;</text>
<text x="0.00" y="0.00" font-size="17.88" font-weight="400" fill="#557784" textLength="76.00" lengthAdjust="spacingAndGlyphs" transform="translate(1760 784) rotate(-90)" stroke="#557784" stroke-width="0.55" stroke-linejoin="round">COOKTOP</text>
<text x="1673.00" y="843.00" font-size="16.72" font-weight="400" fill="#557784" textLength="40.75" lengthAdjust="spacingAndGlyphs"  stroke="#557784" stroke-width="0.55" stroke-linejoin="round">WALL</text>
<text x="1673.00" y="861.00" font-size="16.72" font-weight="400" fill="#557784" textLength="40.00" lengthAdjust="spacingAndGlyphs"  stroke="#557784" stroke-width="0.55" stroke-linejoin="round">OVEN</text>
<rect x="1553.75" y="836.00" width="23.00" height="23.00" fill="#fff" stroke="#64808a" stroke-width="1.6" />
<text x="1584.50" y="853.75" font-size="15.99" font-weight="400" fill="#557784" textLength="67.25" lengthAdjust="spacingAndGlyphs"  stroke="#557784" stroke-width="0.55" stroke-linejoin="round">OPT. REF</text>
<path d="M1633.75 701L1772 839.5M1772 701L1633.75 839.5" stroke="#050505" stroke-width="18" stroke-linecap="round" fill="none"/>
<rect x="1583.00" y="960.50" width="23.75" height="22.50" fill="#fff" stroke="#64808a" stroke-width="1.6" />
<text x="1615.75" y="978.75" font-size="28.34" font-weight="700" fill="#557784" textLength="217.25" lengthAdjust="spacingAndGlyphs"  stroke="#557784" stroke-width="0.5" stroke-linejoin="round">OPT. GOURMET</text>
<line x1="1614.25" y1="984.50" x2="1834.50" y2="984.50" stroke="#5c7079" stroke-width="1.6" />
<text x="1615.75" y="1012.50" font-size="28.34" font-weight="700" fill="#557784" textLength="124.25" lengthAdjust="spacingAndGlyphs"  stroke="#557784" stroke-width="0.5" stroke-linejoin="round">KITCHEN</text>
<line x1="1614.25" y1="1018.75" x2="1741.50" y2="1018.75" stroke="#5c7079" stroke-width="1.6" />
<text x="2047.50" y="621.00" font-size="20.35" font-weight="700" fill="#557784" textLength="55.50" lengthAdjust="spacingAndGlyphs"  stroke="#557784" stroke-width="0.5" stroke-linejoin="round">W.I.C.</text>
<line x1="2046.00" y1="625.75" x2="2104.50" y2="625.75" stroke="#5c7079" stroke-width="1.6" />
<rect x="2121.00" y="609.50" width="23.00" height="23.00" fill="#fff" stroke="#64808a" stroke-width="1.6" />
<text x="2153.00" y="628.00" font-size="15.70" font-weight="400" fill="#557784" textLength="85.75" lengthAdjust="spacingAndGlyphs"  stroke="#557784" stroke-width="0.55" stroke-linejoin="round">OPT. DOOR</text>
<rect x="2001.00" y="639.50" width="244.50" height="7.25" fill="#000" />
<rect x="2001.00" y="639.50" width="7.00" height="184.25" fill="#000" />
<rect x="2001.00" y="815.50" width="244.50" height="8.25" fill="#000" />
<rect x="2238.75" y="639.50" width="6.75" height="121.50" fill="#000" />
<rect x="2238.75" y="807.00" width="6.75" height="16.75" fill="#000" />
<rect x="1999.90" y="653.75" width="8.70" height="56.25" fill="#fff" />
<path d="M2000.50 652.45L1998.00 653.15V710.60L2000.50 711.30" stroke="#333" stroke-width="0.9" fill="none" />
<rect x="2002.40" y="654.75" width="6.20" height="54.25" fill="#9a9a9a" />
<line x1="2002.40" y1="654.75" x2="2002.40" y2="709.00" stroke="#4a4a4a" stroke-width="0.9" />
<line x1="2005.50" y1="654.75" x2="2005.50" y2="709.00" stroke="#4a4a4a" stroke-width="0.9" />
<line x1="2008.60" y1="654.75" x2="2008.60" y2="709.00" stroke="#4a4a4a" stroke-width="0.9" />
<path d="M2151 647Q2153 660 2160 668M2193.5 646L2181 660" stroke="#cdcdcd" stroke-width="1" fill="none" />
<path d="M2240.00 806.00L2209.50 774.50" stroke="#333" stroke-width="2.4" fill="none" />
<path d="M2240.00 806.00L2209.50 774.50" stroke="#fff" stroke-width="0.8" fill="none" />
<path d="M2209.50 774.50A43.85 43.85 0 0 1 2239.50 762.50" stroke="#333" stroke-width="1.0" fill="none" />
<text x="2089.00" y="728.00" font-size="26.60" font-weight="400" fill="#557784" textLength="55.00" lengthAdjust="spacingAndGlyphs"  stroke="#557784" stroke-width="0.6" stroke-linejoin="round">DEN</text>
<line x1="2087.50" y1="733.00" x2="2145.50" y2="733.00" stroke="#5c7079" stroke-width="1.6" />
<text x="2053.75" y="757.50" font-size="21.80" font-weight="400" fill="#557784" textLength="127.25" lengthAdjust="spacingAndGlyphs"  stroke="#557784" stroke-width="0.35" stroke-linejoin="round">13'-8&quot;x10'-0&quot;</text>
<path d="M2040.75 657.5L2178 795M2178 657.5L2040.75 795" stroke="#050505" stroke-width="18" stroke-linecap="round" fill="none"/>
<rect x="1988.00" y="870.50" width="23.75" height="22.50" fill="#fff" stroke="#64808a" stroke-width="1.6" />
<text x="2020.00" y="888.75" font-size="27.62" font-weight="700" fill="#557784" textLength="243.75" lengthAdjust="spacingAndGlyphs"  stroke="#557784" stroke-width="0.5" stroke-linejoin="round">OPT. DEN IN LIEU</text>
<line x1="2018.50" y1="895.00" x2="2266.00" y2="895.00" stroke="#5c7079" stroke-width="1.6" />
<text x="2020.00" y="922.50" font-size="27.62" font-weight="700" fill="#557784" textLength="172.50" lengthAdjust="spacingAndGlyphs"  stroke="#557784" stroke-width="0.5" stroke-linejoin="round">OF BEDRM 3</text>
<line x1="2018.50" y1="929.00" x2="2195.00" y2="929.00" stroke="#5c7079" stroke-width="1.6" />
<rect x="1622.50" y="1166.00" width="200.50" height="7.00" fill="#000" />
<rect x="1582.00" y="1177.50" width="46.00" height="6.25" fill="#000" />
<rect x="1622.50" y="1166.00" width="5.50" height="28.50" fill="#000" />
<rect x="1582.00" y="1177.50" width="6.75" height="168.25" fill="#000" />
<rect x="1622.50" y="1265.00" width="5.50" height="17.50" fill="#000" />
<rect x="1582.00" y="1276.00" width="46.00" height="6.50" fill="#000" />
<rect x="1817.00" y="1166.00" width="6.00" height="15.00" fill="#000" />
<rect x="1817.00" y="1237.50" width="6.00" height="108.25" fill="#000" />
<rect x="1582.00" y="1339.25" width="15.00" height="6.50" fill="#000" />
<rect x="1642.50" y="1339.25" width="180.50" height="6.50" fill="#000" />
<rect x="1816.40" y="1181.00" width="7.20" height="56.50" fill="#fff" />
<path d="M1823.00 1179.70L1824.60 1180.40V1238.10L1823.00 1238.80" stroke="#333" stroke-width="0.9" fill="none" />
<rect x="1816.80" y="1182.00" width="4.60" height="54.50" fill="#9a9a9a" />
<line x1="1816.80" y1="1182.00" x2="1816.80" y2="1236.50" stroke="#4a4a4a" stroke-width="0.9" />
<line x1="1819.10" y1="1182.00" x2="1819.10" y2="1236.50" stroke="#4a4a4a" stroke-width="0.9" />
<line x1="1821.40" y1="1182.00" x2="1821.40" y2="1236.50" stroke="#4a4a4a" stroke-width="0.9" />
<path d="M1603 1183.75V1276M1605.3 1183.75V1276" stroke="#888" stroke-width="0.8" fill="none" />
<path d="M1626 1195.5L1651.75 1219.5M1651.75 1238.75L1626 1264" stroke="#333" stroke-width="2.4" fill="none" />
<path d="M1626 1195.5L1651.75 1219.5M1651.75 1238.75L1626 1264" stroke="#fff" stroke-width="0.8" fill="none" />
<path d="M1651.75 1219.5Q1640 1227 1628.75 1229.5Q1640 1232 1651.75 1238.75" stroke="#333" stroke-width="1" fill="none" />
<path d="M1598.00 1340.00L1628.25 1310.50" stroke="#333" stroke-width="2.4" fill="none" />
<path d="M1598.00 1340.00L1628.25 1310.50" stroke="#fff" stroke-width="0.8" fill="none" />
<path d="M1628.25 1310.50A42.25 42.25 0 0 1 1641.25 1340.00" stroke="#333" stroke-width="1.0" fill="none" />
<text x="1692.00" y="1254.00" font-size="27.62" font-weight="400" fill="#557784" textLength="74.00" lengthAdjust="spacingAndGlyphs"  stroke="#557784" stroke-width="0.6" stroke-linejoin="round">BED 4</text>
<line x1="1690.00" y1="1260.00" x2="1769.00" y2="1260.00" stroke="#5c7079" stroke-width="1.6" />
<text x="1665.75" y="1283.50" font-size="21.80" font-weight="400" fill="#557784" textLength="128.00" lengthAdjust="spacingAndGlyphs"  stroke="#557784" stroke-width="0.35" stroke-linejoin="round">11'-2&quot;x10'-0&quot;</text>
<rect x="1575.50" y="1383.75" width="23.25" height="23.00" fill="#fff" stroke="#64808a" stroke-width="1.6" />
<text x="1606.25" y="1402.50" font-size="27.62" font-weight="700" fill="#557784" textLength="240.00" lengthAdjust="spacingAndGlyphs"  stroke="#557784" stroke-width="0.5" stroke-linejoin="round">OPT. BEDRM 4 IN</text>
<line x1="1604.50" y1="1408.75" x2="1848.00" y2="1408.75" stroke="#5c7079" stroke-width="1.6" />
<text x="1606.25" y="1437.00" font-size="27.62" font-weight="700" fill="#557784" textLength="221.25" lengthAdjust="spacingAndGlyphs"  stroke="#557784" stroke-width="0.5" stroke-linejoin="round">LIEU OF DINING</text>
<line x1="1604.00" y1="1442.50" x2="1828.00" y2="1442.50" stroke="#5c7079" stroke-width="1.6" />
<path d="M1576.5 1380.5L1591.75 1405.5L1624.3 1358.5" stroke="#d6382c" stroke-width="5.5" fill="none" stroke-linejoin="miter" stroke-linecap="round"/>
<rect x="1806.75" y="1067.50" width="23.25" height="23.00" fill="#fff" stroke="#64808a" stroke-width="1.6" />
<text x="1843.00" y="1076.00" font-size="15.99" font-weight="400" fill="#557784" textLength="125.00" lengthAdjust="spacingAndGlyphs"  stroke="#557784" stroke-width="0.55" stroke-linejoin="round">OPT. HALF WALL</text>
<text x="1843.00" y="1095.70" font-size="15.99" font-weight="400" fill="#557784" textLength="128.00" lengthAdjust="spacingAndGlyphs"  stroke="#557784" stroke-width="0.55" stroke-linejoin="round">w/ GLASS ABOVE</text>
<rect x="2002.00" y="1022.50" width="81.00" height="6.50" fill="#000" />
<rect x="2125.00" y="1022.50" width="50.75" height="6.50" fill="#000" />
<rect x="2002.00" y="1022.50" width="9.75" height="10.50" fill="#000" />
<rect x="2002.00" y="1108.75" width="9.75" height="78.25" fill="#000" />
<rect x="2169.50" y="1022.50" width="6.25" height="92.50" fill="#000" />
<rect x="2135.00" y="1115.00" width="111.00" height="7.50" fill="#000" />
<rect x="2238.00" y="1115.00" width="8.00" height="72.00" fill="#000" />
<rect x="2002.00" y="1180.00" width="78.00" height="7.00" fill="#000" />
<rect x="2121.00" y="1180.00" width="125.00" height="7.00" fill="#000" />
<rect x="2135.00" y="1170.50" width="6.00" height="9.50" fill="#000" />
<rect x="2000.30" y="1031.00" width="11.45" height="79.00" fill="#fff" stroke="#444" stroke-width="0.8" />
<path d="M2004 1033V1108M2007 1033V1108" stroke="#777" stroke-width="0.9" fill="none" />
<rect x="2002.00" y="1068.50" width="9.75" height="3.00" fill="#000" />
<ellipse cx="2041" cy="1071" rx="23.5" ry="36" fill="#fff" stroke="#222" stroke-width="1"/>
<rect x="2038.50" y="1029.00" width="4.00" height="7.50" fill="#fff" stroke="#444" stroke-width="0.8" />
<line x1="2070.50" y1="1029.00" x2="2070.50" y2="1115.00" stroke="#444" stroke-width="0.9" />
<rect x="2011.75" y="1114.00" width="62.00" height="6.00" fill="#fff" stroke="#cdcdcd" stroke-width="1" />
<rect x="2012.50" y="1122.00" width="48.50" height="58.00" fill="none" stroke="#2a2a2a" stroke-width="0.9" />
<rect x="2014.70" y="1124.50" width="44.10" height="53.00" fill="none" stroke="#2a2a2a" stroke-width="0.9" />
<path d="M2014.7 1124.5L2058.8 1177.5M2058.8 1124.5L2014.7 1177.5" stroke="#2a2a2a" stroke-width="0.8" fill="none" />
<rect x="2035.00" y="1149.00" width="3.50" height="3.50" fill="#111" />
<path d="M2033.5 1174.5L2040 1174.5L2036.7 1179Z" stroke="#2a2a2a" stroke-width="0.7" fill="#fff" />
<line x1="2138.75" y1="1029.00" x2="2138.75" y2="1115.00" stroke="#2a2a2a" stroke-width="0.9" />
<ellipse cx="2155" cy="1048.75" rx="10" ry="13" fill="#fff" stroke="#222" stroke-width="1"/><circle cx="2154" cy="1048.75" r="1.1" fill="#222"/>
<path d="M2158 1048.75H2166M2165.5 1045.75V1051.75" stroke="#222" stroke-width="1.3" fill="none" />
<ellipse cx="2155" cy="1093.75" rx="10" ry="13" fill="#fff" stroke="#222" stroke-width="1"/><circle cx="2154" cy="1093.75" r="1.1" fill="#222"/>
<path d="M2158 1093.75H2166M2165.5 1090.75V1096.75" stroke="#222" stroke-width="1.3" fill="none" />
<text x="2092.50" y="1088.00" font-size="19.62" font-weight="700" fill="#557784" textLength="33.50" lengthAdjust="spacingAndGlyphs"  stroke="#557784" stroke-width="0.5" stroke-linejoin="round">O.B.</text>
<line x1="2091.00" y1="1091.30" x2="2127.50" y2="1091.30" stroke="#5c7079" stroke-width="1.6" />
<path d="M2083.75 1028.00L2113.00 1055.75" stroke="#333" stroke-width="2.4" fill="none" />
<path d="M2083.75 1028.00L2113.00 1055.75" stroke="#fff" stroke-width="0.8" fill="none" />
<path d="M2113.00 1055.75A40.32 40.32 0 0 0 2124.00 1029.00" stroke="#333" stroke-width="1.0" fill="none" />
<path d="M2120.50 1185.00L2092.00 1213.75" stroke="#333" stroke-width="2.4" fill="none" />
<path d="M2120.50 1185.00L2092.00 1213.75" stroke="#fff" stroke-width="0.8" fill="none" />
<path d="M2092.00 1213.75A40.48 40.48 0 0 1 2080.50 1187.00" stroke="#333" stroke-width="1.0" fill="none" />
<path d="M2140.00 1170.00L2168.75 1141.00" stroke="#333" stroke-width="2.4" fill="none" />
<path d="M2140.00 1170.00L2168.75 1141.00" stroke="#fff" stroke-width="0.8" fill="none" />
<path d="M2168.75 1141.00A40.84 40.84 0 0 0 2140.00 1129.00" stroke="#333" stroke-width="1.0" fill="none" />
<path d="M2062 1146Q2070 1140 2078 1141" stroke="#2a2a2a" stroke-width="0.9" fill="none" />
<ellipse cx="2207.5" cy="1149.5" rx="12" ry="12" fill="#fff" stroke="#222" stroke-width="1"/><ellipse cx="2207.5" cy="1149.5" rx="9.6" ry="9.6" fill="none" stroke="#888" stroke-width="0.8"/>
<path d="M2215 1142.5L2223.75 1145V1154.5L2215 1157" stroke="#222" stroke-width="0.9" fill="#fff" />
<rect x="2223.75" y="1135.00" width="12.00" height="29.50" fill="#fff" stroke="#222" stroke-width="1" />
<rect x="2226.00" y="1137.30" width="7.50" height="24.70" fill="none" stroke="#555" stroke-width="0.7" />
<line x1="1977.00" y1="1090.00" x2="2045.00" y2="1116.75" stroke="#6a7f88" stroke-width="1.4" />
<path d="M2050 1041L2188.75 1182M2188.75 1041L2050 1182" stroke="#050505" stroke-width="19" stroke-linecap="round" fill="none"/>
<rect x="1975.00" y="1244.50" width="23.00" height="22.80" fill="#fff" stroke="#64808a" stroke-width="1.6" />
<text x="2006.00" y="1263.00" font-size="27.62" font-weight="700" fill="#557784" textLength="219.00" lengthAdjust="spacingAndGlyphs"  stroke="#557784" stroke-width="0.5" stroke-linejoin="round">OPT. SEPARATE</text>
<line x1="2004.50" y1="1269.00" x2="2226.00" y2="1269.00" stroke="#5c7079" stroke-width="1.6" />
<text x="2006.00" y="1297.30" font-size="27.62" font-weight="700" fill="#557784" textLength="217.00" lengthAdjust="spacingAndGlyphs"  stroke="#557784" stroke-width="0.5" stroke-linejoin="round">TUB &amp; SHOWER</text>
<line x1="2006.00" y1="1303.00" x2="2224.00" y2="1303.00" stroke="#5c7079" stroke-width="1.6" />
<text x="214.00" y="210.50" font-size="46.51" font-weight="700" fill="#557784" textLength="368.00" lengthAdjust="spacingAndGlyphs"  stroke="#557784" stroke-width="0.5" stroke-linejoin="round">HARMONY - 1656</text>
<line x1="211.00" y1="218.70" x2="584.00" y2="218.70" stroke="#5c7079" stroke-width="1.8" />
<text x="234.50" y="297.50" font-size="58.14" font-weight="400" fill="#c9382f" textLength="173.50" lengthAdjust="spacingAndGlyphs"  stroke="#c9382f" stroke-width="0" stroke-linejoin="round">SG112</text>
<text x="921.00" y="1748.30" font-size="44.33" font-weight="700" fill="#557784" textLength="276.00" lengthAdjust="spacingAndGlyphs"  stroke="#557784" stroke-width="0.5" stroke-linejoin="round">FIRST FLOOR</text>
<line x1="919.00" y1="1757.00" x2="1198.00" y2="1757.00" stroke="#5c7079" stroke-width="2" />
<rect x="1001.00" y="473.75" width="23.50" height="23.25" fill="#fff" stroke="#64808a" stroke-width="1.6" />
<rect x="1001.00" y="590.50" width="23.50" height="23.25" fill="#fff" stroke="#64808a" stroke-width="1.6" />
<text x="1030.00" y="482.00" font-size="16.28" font-weight="400" fill="#557784" textLength="88.00" lengthAdjust="spacingAndGlyphs"  stroke="#557784" stroke-width="0.55" stroke-linejoin="round">OPT. 12x10</text>
<text x="1030.00" y="500.75" font-size="16.28" font-weight="400" fill="#557784" textLength="77.50" lengthAdjust="spacingAndGlyphs"  stroke="#557784" stroke-width="0.55" stroke-linejoin="round">EXTENDED</text>
<text x="1030.00" y="519.50" font-size="16.28" font-weight="400" fill="#557784" textLength="45.00" lengthAdjust="spacingAndGlyphs"  stroke="#557784" stroke-width="0.55" stroke-linejoin="round">PATIO</text>
<text x="1030.00" y="598.00" font-size="16.28" font-weight="400" fill="#557784" textLength="118.00" lengthAdjust="spacingAndGlyphs"  stroke="#557784" stroke-width="0.55" stroke-linejoin="round">OPT. SCREENED</text>
<text x="1030.00" y="617.00" font-size="16.28" font-weight="400" fill="#557784" textLength="87.00" lengthAdjust="spacingAndGlyphs"  stroke="#557784" stroke-width="0.55" stroke-linejoin="round">ENCLOSURE</text>
<path d="M1020.5 471L1158.75 609.5M1158.75 471L1020.5 609.5" stroke="#050505" stroke-width="18" stroke-linecap="round" fill="none"/>
<text x="1043.00" y="668.75" font-size="21.80" font-weight="700" fill="#557784" textLength="83.00" lengthAdjust="spacingAndGlyphs"  stroke="#557784" stroke-width="0.5" stroke-linejoin="round">COV'RD</text>
<line x1="1041.50" y1="673.00" x2="1127.50" y2="673.00" stroke="#5c7079" stroke-width="1.6" />
<text x="1047.50" y="695.00" font-size="21.80" font-weight="700" fill="#557784" textLength="75.00" lengthAdjust="spacingAndGlyphs"  stroke="#557784" stroke-width="0.5" stroke-linejoin="round">PORCH</text>
<line x1="1046.00" y1="699.50" x2="1124.00" y2="699.50" stroke="#5c7079" stroke-width="1.6" />
<text x="1041.00" y="717.00" font-size="17.44" font-weight="400" fill="#557784" textLength="87.00" lengthAdjust="spacingAndGlyphs"  stroke="#557784" stroke-width="0.55" stroke-linejoin="round">12'-0&quot;x7'-0&quot;</text>
<text x="814.50" y="716.30" font-size="29.80" font-weight="700" fill="#557784" textLength="76.00" lengthAdjust="spacingAndGlyphs"  stroke="#557784" stroke-width="0.5" stroke-linejoin="round">OWN.</text>
<line x1="813.00" y1="721.75" x2="892.00" y2="721.75" stroke="#5c7079" stroke-width="1.6" />
<text x="811.75" y="751.30" font-size="29.80" font-weight="700" fill="#557784" textLength="81.25" lengthAdjust="spacingAndGlyphs"  stroke="#557784" stroke-width="0.5" stroke-linejoin="round">SUITE</text>
<line x1="810.25" y1="755.75" x2="894.50" y2="755.75" stroke="#5c7079" stroke-width="1.6" />
<text x="788.75" y="780.00" font-size="21.80" font-weight="400" fill="#557784" textLength="126.75" lengthAdjust="spacingAndGlyphs"  stroke="#557784" stroke-width="0.35" stroke-linejoin="round">13'-8&quot;x13'-6&quot;</text>
<text x="1239.00" y="686.30" font-size="28.34" font-weight="700" fill="#557784" textLength="112.00" lengthAdjust="spacingAndGlyphs"  stroke="#557784" stroke-width="0.5" stroke-linejoin="round">CASUAL</text>
<line x1="1237.50" y1="691.75" x2="1352.50" y2="691.75" stroke="#5c7079" stroke-width="1.6" />
<text x="1266.00" y="720.30" font-size="28.34" font-weight="700" fill="#557784" textLength="58.00" lengthAdjust="spacingAndGlyphs"  stroke="#557784" stroke-width="0.5" stroke-linejoin="round">DIN.</text>
<line x1="1264.50" y1="726.00" x2="1325.50" y2="726.00" stroke="#5c7079" stroke-width="1.6" />
<text x="1239.00" y="750.00" font-size="21.80" font-weight="400" fill="#557784" textLength="113.50" lengthAdjust="spacingAndGlyphs"  stroke="#557784" stroke-width="0.35" stroke-linejoin="round">11'-2&quot;x9'-8&quot;</text>
<rect x="1405.50" y="699.00" width="23.50" height="23.00" fill="#fff" stroke="#64808a" stroke-width="1.6" />
<text x="1438.00" y="707.00" font-size="15.99" font-weight="400" fill="#557784" textLength="60.00" lengthAdjust="spacingAndGlyphs"  stroke="#557784" stroke-width="0.55" stroke-linejoin="round">OPT. (3)</text>
<text x="1438.00" y="726.00" font-size="15.99" font-weight="400" fill="#557784" textLength="82.00" lengthAdjust="spacingAndGlyphs"  stroke="#557784" stroke-width="0.55" stroke-linejoin="round">2020 WINS</text>
<text x="1022.50" y="833.30" font-size="28.34" font-weight="700" fill="#557784" textLength="128.00" lengthAdjust="spacingAndGlyphs"  stroke="#557784" stroke-width="0.5" stroke-linejoin="round">FAM. RM.</text>
<line x1="1021.00" y1="839.00" x2="1152.00" y2="839.00" stroke="#5c7079" stroke-width="1.6" />
<text x="1022.00" y="862.50" font-size="21.80" font-weight="400" fill="#557784" textLength="128.00" lengthAdjust="spacingAndGlyphs"  stroke="#557784" stroke-width="0.35" stroke-linejoin="round">13'-2&quot;x15'-2&quot;</text>
<rect x="1013.00" y="937.50" width="23.75" height="22.50" fill="#fff" stroke="#64808a" stroke-width="1.6" />
<text x="1042.50" y="946.00" font-size="15.99" font-weight="400" fill="#557784" textLength="33.50" lengthAdjust="spacingAndGlyphs"  stroke="#557784" stroke-width="0.55" stroke-linejoin="round">OPT.</text>
<text x="1042.50" y="965.00" font-size="15.99" font-weight="400" fill="#557784" textLength="77.00" lengthAdjust="spacingAndGlyphs"  stroke="#557784" stroke-width="0.55" stroke-linejoin="round">FIREPLACE</text>
<text x="1196.00" y="964.30" font-size="21.08" font-weight="700" fill="#557784" textLength="95.00" lengthAdjust="spacingAndGlyphs"  stroke="#557784" stroke-width="0.5" stroke-linejoin="round">KITCHEN</text>
<line x1="1194.50" y1="968.00" x2="1292.50" y2="968.00" stroke="#5c7079" stroke-width="1.6" />
<text x="1190.00" y="986.30" font-size="17.88" font-weight="400" fill="#557784" textLength="106.00" lengthAdjust="spacingAndGlyphs"  stroke="#557784" stroke-width="0.55" stroke-linejoin="round">11'-2&quot; x 15'-0&quot;</text>
<text x="805.50" y="942.00" font-size="20.78" font-weight="700" fill="#557784" textLength="39.50" lengthAdjust="spacingAndGlyphs"  stroke="#557784" stroke-width="0.5" stroke-linejoin="round">O.B.</text>
<line x1="804.00" y1="946.20" x2="846.50" y2="946.20" stroke="#5c7079" stroke-width="1.6" />
<text x="761.50" y="988.00" font-size="20.78" font-weight="700" fill="#557784" textLength="17.00" lengthAdjust="spacingAndGlyphs"  stroke="#557784" stroke-width="0.5" stroke-linejoin="round">L.</text>
<line x1="760.00" y1="992.30" x2="780.00" y2="992.30" stroke="#5c7079" stroke-width="1.6" />
<text x="815.50" y="1078.30" font-size="21.51" font-weight="700" fill="#557784" textLength="56.50" lengthAdjust="spacingAndGlyphs"  stroke="#557784" stroke-width="0.5" stroke-linejoin="round">W.I.C.</text>
<line x1="814.00" y1="1082.50" x2="873.50" y2="1082.50" stroke="#5c7079" stroke-width="1.6" />
<text x="983.00" y="1079.00" font-size="21.08" font-weight="700" fill="#557784" textLength="49.50" lengthAdjust="spacingAndGlyphs"  stroke="#557784" stroke-width="0.5" stroke-linejoin="round">LND.</text>
<line x1="981.50" y1="1083.75" x2="1034.00" y2="1083.75" stroke="#5c7079" stroke-width="1.6" />
<text x="1337.50" y="1014.50" font-size="21.08" font-weight="700" fill="#557784" textLength="17.00" lengthAdjust="spacingAndGlyphs"  stroke="#557784" stroke-width="0.5" stroke-linejoin="round">P.</text>
<line x1="1336.00" y1="1019.00" x2="1356.00" y2="1019.00" stroke="#5c7079" stroke-width="1.6" />
<text x="797.00" y="1206.30" font-size="27.33" font-weight="400" fill="#557784" textLength="75.00" lengthAdjust="spacingAndGlyphs"  stroke="#557784" stroke-width="0.6" stroke-linejoin="round">BED 3</text>
<line x1="795.00" y1="1211.75" x2="874.00" y2="1211.75" stroke="#5c7079" stroke-width="1.6" />
<text x="770.00" y="1236.00" font-size="21.80" font-weight="400" fill="#557784" textLength="128.75" lengthAdjust="spacingAndGlyphs"  stroke="#557784" stroke-width="0.35" stroke-linejoin="round">11'-4&quot;x10'-0&quot;</text>
<rect x="1117.50" y="1153.00" width="23.00" height="22.75" fill="#fff" stroke="#64808a" stroke-width="1.6" />
<text x="1080.00" y="1172.50" font-size="16.42" font-weight="400" fill="#557784" textLength="33.75" lengthAdjust="spacingAndGlyphs"  stroke="#557784" stroke-width="0.55" stroke-linejoin="round">OPT.</text>
<text x="1080.00" y="1191.30" font-size="16.42" font-weight="400" fill="#557784" textLength="41.00" lengthAdjust="spacingAndGlyphs"  stroke="#557784" stroke-width="0.55" stroke-linejoin="round">DROP</text>
<text x="1080.00" y="1210.75" font-size="16.42" font-weight="400" fill="#557784" textLength="41.00" lengthAdjust="spacingAndGlyphs"  stroke="#557784" stroke-width="0.55" stroke-linejoin="round">ZONE</text>
<rect x="1171.75" y="1177.00" width="22.75" height="22.00" fill="#fff" stroke="#64808a" stroke-width="1.6" />
<text x="1202.50" y="1184.50" font-size="15.70" font-weight="400" fill="#557784" textLength="33.50" lengthAdjust="spacingAndGlyphs"  stroke="#557784" stroke-width="0.55" stroke-linejoin="round">OPT.</text>
<text x="1202.50" y="1203.00" font-size="15.70" font-weight="400" fill="#557784" textLength="52.50" lengthAdjust="spacingAndGlyphs"  stroke="#557784" stroke-width="0.55" stroke-linejoin="round">DOORS</text>
<rect x="1213.00" y="1063.00" width="23.00" height="21.70" fill="#fff" stroke="#64808a" stroke-width="1.6" />
<text x="1241.75" y="1079.00" font-size="15.99" font-weight="400" fill="#557784" textLength="66.25" lengthAdjust="spacingAndGlyphs"  stroke="#557784" stroke-width="0.55" stroke-linejoin="round">OPT. REF</text>
<text x="1250.00" y="1127.50" font-size="27.62" font-weight="700" fill="#557784" textLength="101.00" lengthAdjust="spacingAndGlyphs"  stroke="#557784" stroke-width="0.5" stroke-linejoin="round">DINING</text>
<line x1="1248.00" y1="1133.00" x2="1353.00" y2="1133.00" stroke="#5c7079" stroke-width="1.6" />
<text x="1237.00" y="1157.50" font-size="21.80" font-weight="400" fill="#557784" textLength="126.75" lengthAdjust="spacingAndGlyphs"  stroke="#557784" stroke-width="0.35" stroke-linejoin="round">13'-6&quot;x10'-0&quot;</text>
<text x="1091.75" y="1292.50" font-size="20.35" font-weight="700" fill="#557784" textLength="45.25" lengthAdjust="spacingAndGlyphs"  stroke="#557784" stroke-width="0.5" stroke-linejoin="round">FYR.</text>
<line x1="1090.25" y1="1297.00" x2="1138.50" y2="1297.00" stroke="#5c7079" stroke-width="1.6" />
<text x="1268.00" y="1267.50" font-size="26.16" font-weight="400" fill="#557784" textLength="38.00" lengthAdjust="spacingAndGlyphs"  stroke="#557784" stroke-width="0.6" stroke-linejoin="round">B.2</text>
<line x1="1266.00" y1="1273.75" x2="1309.00" y2="1273.75" stroke="#5c7079" stroke-width="1.6" />
<rect x="1442.50" y="1244.50" width="23.25" height="22.50" fill="#fff" stroke="#64808a" stroke-width="1.6" />
<text x="1400.00" y="1266.00" font-size="15.70" font-weight="400" fill="#557784" textLength="33.75" lengthAdjust="spacingAndGlyphs"  stroke="#557784" stroke-width="0.55" stroke-linejoin="round">OPT.</text>
<text x="1400.00" y="1285.75" font-size="15.70" font-weight="400" fill="#557784" textLength="63.75" lengthAdjust="spacingAndGlyphs"  stroke="#557784" stroke-width="0.55" stroke-linejoin="round">SHOWER</text>
<text x="1261.00" y="1412.50" font-size="27.33" font-weight="400" fill="#557784" textLength="75.00" lengthAdjust="spacingAndGlyphs"  stroke="#557784" stroke-width="0.6" stroke-linejoin="round">BED 2</text>
<line x1="1259.50" y1="1418.00" x2="1339.00" y2="1418.00" stroke="#5c7079" stroke-width="1.6" />
<text x="1235.00" y="1442.50" font-size="21.80" font-weight="400" fill="#557784" textLength="128.00" lengthAdjust="spacingAndGlyphs"  stroke="#557784" stroke-width="0.35" stroke-linejoin="round">11'-2&quot;x10'-0&quot;</text>
<text x="874.50" y="1451.00" font-size="29.07" font-weight="400" fill="#557784" textLength="81.00" lengthAdjust="spacingAndGlyphs"  stroke="#557784" stroke-width="0.6" stroke-linejoin="round">2-CAR</text>
<line x1="873.00" y1="1455.75" x2="957.00" y2="1455.75" stroke="#5c7079" stroke-width="1.6" />
<text x="845.50" y="1480.00" font-size="21.80" font-weight="400" fill="#557784" textLength="139.50" lengthAdjust="spacingAndGlyphs"  stroke="#557784" stroke-width="0.35" stroke-linejoin="round">19'-6&quot;x19'-10&quot;</text>
<text x="1170.00" y="1565.00" font-size="27.62" font-weight="700" fill="#557784" textLength="134.50" lengthAdjust="spacingAndGlyphs"  stroke="#557784" stroke-width="0.5" stroke-linejoin="round">FRT. PCH.</text>
<line x1="1168.50" y1="1570.75" x2="1305.00" y2="1570.75" stroke="#5c7079" stroke-width="1.6" />
<rect x="743.00" y="1572.50" width="23.75" height="22.50" fill="#fff" stroke="#64808a" stroke-width="1.6" />
<text x="770.75" y="1580.75" font-size="15.70" font-weight="400" fill="#557784" textLength="60.00" lengthAdjust="spacingAndGlyphs"  stroke="#557784" stroke-width="0.55" stroke-linejoin="round">SERVICE</text>
<text x="770.75" y="1599.50" font-size="15.70" font-weight="400" fill="#557784" textLength="44.75" lengthAdjust="spacingAndGlyphs"  stroke="#557784" stroke-width="0.55" stroke-linejoin="round">DOOR</text>
<rect x="541.50" y="1465.00" width="23.50" height="23.00" fill="#fff" stroke="#64808a" stroke-width="1.6" />
<text x="569.00" y="1472.50" font-size="16.42" font-weight="400" fill="#557784" textLength="60.50" lengthAdjust="spacingAndGlyphs"  stroke="#557784" stroke-width="0.55" stroke-linejoin="round">SERVICE</text>
<text x="569.00" y="1491.30" font-size="16.42" font-weight="400" fill="#557784" textLength="44.75" lengthAdjust="spacingAndGlyphs"  stroke="#557784" stroke-width="0.55" stroke-linejoin="round">DOOR</text>
<rect x="542.50" y="1575.00" width="23.25" height="23.00" fill="#fff" stroke="#64808a" stroke-width="1.6" />
<text x="570.00" y="1582.50" font-size="16.42" font-weight="400" fill="#557784" textLength="87.00" lengthAdjust="spacingAndGlyphs"  stroke="#557784" stroke-width="0.55" stroke-linejoin="round">OPT. 1-CAR</text>
<text x="570.00" y="1601.75" font-size="15.99" font-weight="400" fill="#557784" textLength="62.50" lengthAdjust="spacingAndGlyphs"  stroke="#557784" stroke-width="0.55" stroke-linejoin="round">GARAGE</text>
<g stroke="#000" fill="none" stroke-width="1.6"><path d="M1.5 1968.5L11.5 1959L27 1973"/><path d="M5.5 1969.5L7 1971.5L12.5 1963.5" stroke-width="1.4"/><path d="M10 1969.5H20.5V1984"/><path d="M10.5 1973.2H17.5M10.5 1975.2H17.5M10.5 1977.2H17.5" stroke-width="0.9"/></g>
<path d="M16.5 1958.2H21V1967L16.5 1963Z" fill="#000"/><path d="M20.5 1967L27 1972.5H20.5Z" fill="#000"/><path d="M2 1981.3H15L18 1984H20.5V1986L5.5 1986Z" fill="#000"/><rect x="5.6" y="1972" width="2" height="5" fill="#000"/>
<text x="22.00" y="1980.30" font-size="14.97" font-weight="400" fill="#000" textLength="69.50" lengthAdjust="spacingAndGlyphs"  stroke="#000" stroke-width="0.2" stroke-linejoin="round">ggarMLS™</text>
</svg>
</body></html>
